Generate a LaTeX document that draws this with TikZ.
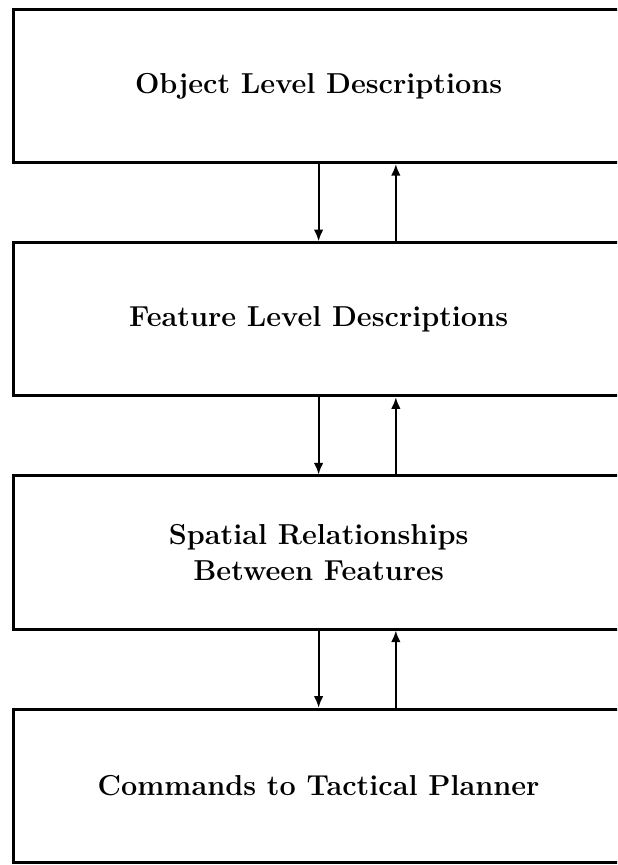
\documentclass[tikz,border=0pt]{standalone}
\usepackage{tikz}
\usetikzlibrary{arrows.meta,positioning}

\begin{document}
\begin{tikzpicture}[
        every node/.style={align=center},
        level/.style={draw, very thick, minimum width=8.85cm, minimum height=2.22cm,
            font=\fontsize{11.9}{15}\selectfont\bfseries},
        link/.style={-{Latex[length=1.7mm,width=1.4mm]}, thick}
    ]
        \useasboundingbox (0,0) rectangle (8.947,-12.543);
        \clip (0,0) rectangle (8.947,-12.543);

        \node[level, anchor=north west] (obj) at (0.174,-0.116) {Object Level Descriptions};
        \node[level, below=1.12cm of obj] (feat) {Feature Level Descriptions};
        \node[level, below=1.12cm of feat] (spat) {Spatial Relationships\\Between Features};
        \node[level, below=1.12cm of spat] (cmd) {Commands to Tactical Planner};

        % down: higher level to lower level
        \draw[link] (obj.south) -- (feat.north);
        \draw[link] (feat.south) -- (spat.north);
        \draw[link] (spat.south) -- (cmd.north);

        % up: feedback
        \draw[link] ([xshift=1.12cm]feat.north) -- ([xshift=1.12cm]obj.south);
        \draw[link] ([xshift=1.12cm]spat.north) -- ([xshift=1.12cm]feat.south);
        \draw[link] ([xshift=1.12cm]cmd.north) -- ([xshift=1.12cm]spat.south);
    \end{tikzpicture}
\end{document}
